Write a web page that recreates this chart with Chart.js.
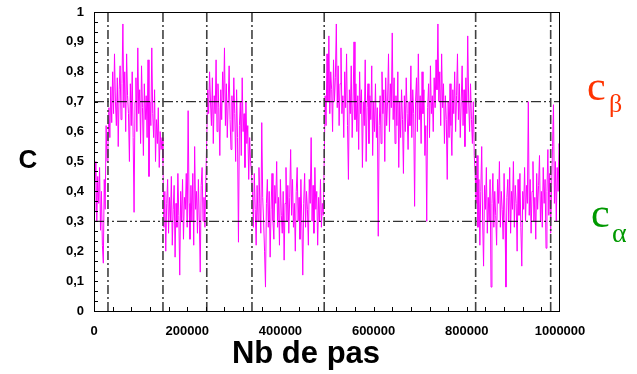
<!DOCTYPE html>
<html>
<head>
<meta charset="utf-8">
<title>C vs Nb de pas</title>
<script src="https://cdn.jsdelivr.net/npm/chart.js@4.4.1/dist/chart.umd.min.js"></script>
<style>
  html, body { margin: 0; padding: 0; background: #fff; }
  canvas { display: block; }
</style>
</head>
<body>
<canvas id="myChart" width="637" height="374"></canvas>
<script>
// sampling step along the x axis (Nb de pas)
const STEP = 2000;

// C values, one array per phase
const phaseA = [0.33, 0.42, 0.50, 0.30, 0.45, 0.36, 0.48, 0.27, 0.40, 0.22,
                0.16, 0.44, 0.34, 0.62, 0.50];
const phaseB = [0.55, 0.68, 0.58, 0.75, 0.63, 0.80, 0.66, 0.86, 0.70, 0.62,
                0.78, 0.55, 0.74, 0.82, 0.64, 0.76, 0.96, 0.68, 0.80, 0.60,
                0.86, 0.72, 0.66, 0.50, 0.76, 0.62, 0.80, 0.58, 0.33, 0.70,
                0.78, 0.60, 0.88, 0.66, 0.74, 0.56, 0.82, 0.68, 0.52, 0.76,
                0.64, 0.72, 0.58, 0.84, 0.45, 0.70, 0.62, 0.88, 0.66, 0.58,
                0.74, 0.50, 0.64, 0.56, 0.68, 0.48, 0.60, 0.54, 0.58];
const phaseC = [0.50, 0.28, 0.40, 0.20, 0.36, 0.44, 0.26, 0.38, 0.30, 0.45,
                0.22, 0.34, 0.42, 0.18, 0.36, 0.28, 0.46, 0.32, 0.12, 0.40,
                0.30, 0.44, 0.24, 0.38, 0.34, 0.46, 0.28, 0.67, 0.36, 0.24,
                0.42, 0.30, 0.46, 0.22, 0.55, 0.34, 0.40, 0.26, 0.44, 0.30,
                0.13, 0.42, 0.48, 0.30, 0.38, 0.28, 0.44];
const phaseD = [0.58, 0.74, 0.66, 0.80, 0.70, 0.62, 0.78, 0.56, 0.72, 0.66,
                0.84, 0.60, 0.76, 0.68, 0.52, 0.74, 0.64, 0.80, 0.70, 0.88,
                0.62, 0.76, 0.58, 0.70, 0.82, 0.64, 0.54, 0.72, 0.60, 0.78,
                0.66, 0.50, 0.74, 0.58, 0.23, 0.62, 0.70, 0.52, 0.78, 0.60,
                0.66, 0.48, 0.70, 0.56, 0.62, 0.44, 0.58, 0.50, 0.46];
const phaseE = [0.40, 0.28, 0.46, 0.34, 0.22, 0.42, 0.30, 0.48, 0.36, 0.26,
                0.63, 0.38, 0.30, 0.20, 0.08, 0.36, 0.44, 0.28, 0.40, 0.18,
                0.34, 0.46, 0.30, 0.24, 0.42, 0.36, 0.50, 0.28, 0.38, 0.22,
                0.44, 0.32, 0.26, 0.40, 0.17, 0.36, 0.48, 0.30, 0.42, 0.26,
                0.38, 0.54, 0.32, 0.44, 0.28, 0.36, 0.20, 0.40, 0.48, 0.30,
                0.38, 0.24, 0.44, 0.30, 0.12, 0.36, 0.46, 0.28, 0.40, 0.34,
                0.22, 0.44, 0.36, 0.58, 0.30, 0.42, 0.26, 0.48, 0.34, 0.40,
                0.22, 0.38, 0.30, 0.44, 0.28, 0.36, 0.32];
const phaseF = [0.50, 0.72, 0.62, 0.86, 0.70, 0.92, 0.66, 0.80, 0.74, 0.60,
                0.84, 0.70, 0.78, 0.96, 0.68, 0.82, 0.62, 0.76, 0.88, 0.66,
                0.72, 0.58, 0.80, 0.68, 0.86, 0.62, 0.44, 0.74, 0.66, 0.82,
                0.58, 0.70, 0.90, 0.64, 0.76, 0.60, 0.72, 0.54, 0.80, 0.66,
                0.74, 0.48, 0.70, 0.62, 0.84, 0.50, 0.68, 0.76, 0.56, 0.72,
                0.64, 0.82, 0.52, 0.70, 0.60, 0.76, 0.58, 0.68, 0.25, 0.62,
                0.72, 0.56, 0.80, 0.66, 0.74, 0.50, 0.78, 0.62, 0.70, 0.86,
                0.60, 0.76, 0.68, 0.93, 0.64, 0.78, 0.56, 0.72, 0.62, 0.80,
                0.48, 0.70, 0.58, 0.74, 0.64, 0.46, 0.72, 0.60, 0.78, 0.66,
                0.54, 0.70, 0.62, 0.82, 0.58, 0.74, 0.66, 0.35, 0.70, 0.78,
                0.60, 0.86, 0.64, 0.72, 0.56, 0.80, 0.66, 0.74, 0.52, 0.62,
                0.30, 0.68, 0.76, 0.58, 0.82, 0.66, 0.72, 0.60, 0.78, 0.68,
                0.84, 0.74, 0.96, 0.70, 0.80, 0.62, 0.86, 0.68, 0.76, 0.56,
                0.72, 0.64, 0.44, 0.70, 0.58, 0.76, 0.62, 0.52, 0.74, 0.66,
                0.80, 0.60, 0.72, 0.86, 0.64, 0.76, 0.58, 0.70, 0.82, 0.62,
                0.74, 0.55, 0.78, 0.66, 0.92, 0.70, 0.60, 0.76, 0.64, 0.56,
                0.70, 0.52, 0.46];
const phaseG = [0.36, 0.52, 0.28, 0.44, 0.22, 0.40, 0.55, 0.30, 0.15, 0.42,
                0.34, 0.48, 0.26, 0.38, 0.30, 0.44, 0.08, 0.36, 0.46, 0.28,
                0.40, 0.32, 0.22, 0.44, 0.36, 0.50, 0.28, 0.40, 0.34, 0.24,
                0.46, 0.30, 0.08, 0.38, 0.44, 0.30, 0.48, 0.26, 0.40, 0.34,
                0.50, 0.28, 0.42, 0.36, 0.20, 0.44, 0.32, 0.46, 0.28, 0.15,
                0.40, 0.34, 0.48, 0.30, 0.42, 0.36, 0.70, 0.32, 0.44, 0.26,
                0.40, 0.50, 0.30, 0.38, 0.24, 0.46, 0.34, 0.42, 0.52, 0.30,
                0.40, 0.28, 0.48, 0.36, 0.44, 0.21, 0.40, 0.54, 0.32, 0.46,
                0.26];
const phaseH = [0.42, 0.55, 0.69, 0.36, 0.50, 0.30, 0.48, 0.40, 0.56, 0.52];

// dash-dot guide lines
const transitions = [30000, 148000, 242000, 339000, 494000, 819000, 980000];
const levels = [0.3, 0.7];

// axis ticks
const xTicks = [0, 200000, 400000, 600000, 800000, 1000000];
const yTicks = [0, 0.1, 0.2, 0.3, 0.4, 0.5, 0.6, 0.7, 0.8, 0.9, 1];

const values = [].concat(phaseA, phaseB, phaseC, phaseD, phaseE, phaseF, phaseG, phaseH);
const series = values.map((v, i) => ({ x: i * STEP, y: v }));

const guideSets = [];
transitions.forEach(t => {
  guideSets.push({
    data: [{ x: t, y: 0 }, { x: t, y: 1 }],
    borderColor: "#404040",
    borderWidth: 1.6,
    borderDash: [9, 3, 2, 3],
    pointRadius: 0,
  });
});
levels.forEach(l => {
  guideSets.push({
    data: [{ x: 0, y: l }, { x: 1000000, y: l }],
    borderColor: "#000",
    borderWidth: 1,
    borderDash: [10, 3, 2, 3, 2, 3],
    pointRadius: 0,
  });
});

const fmtY = v => {
  if (Math.abs(v) < 1e-9) return "0";
  if (Math.abs(v - 1) < 1e-9) return "1";
  return v.toFixed(1).replace(".", ",");
};

// frame, small ticks and the extra labels
const decorations = {
  id: "decorations",
  afterDraw(chart) {
    const { ctx, chartArea: a, scales } = chart;
    ctx.save();
    ctx.strokeStyle = "#000";
    ctx.lineWidth = 1;
    ctx.setLineDash([]);
    ctx.strokeRect(a.left + 0.5, a.top + 0.5, a.right - a.left - 1, a.bottom - a.top);

    ctx.beginPath();
    for (let k = 1; k < 30; k++) {
      const y = Math.round(scales.y.getPixelForValue(k / 30)) + 0.5;
      ctx.moveTo(a.left, y);
      ctx.lineTo(a.left + 4, y);
    }
    for (let k = 1; k < 25; k++) {
      const x = Math.round(scales.x.getPixelForValue(k * 40000)) + 0.5;
      ctx.moveTo(x, a.bottom);
      ctx.lineTo(x, a.bottom - 4);
    }
    ctx.stroke();

    ctx.fillStyle = "#000";
    ctx.textAlign = "center";
    ctx.textBaseline = "alphabetic";
    ctx.font = 'bold 31px "Liberation Sans", Arial, sans-serif';
    ctx.fillText("Nb de pas", 306, 363);
    ctx.font = 'bold 26px "Liberation Sans", Arial, sans-serif';
    ctx.fillText("C", 28, 168);

    ctx.textAlign = "left";
    ctx.fillStyle = "#FF3300";
    ctx.font = '42px "Liberation Serif", "Times New Roman", serif';
    ctx.fillText("c", 587, 100);
    ctx.font = '26px "Liberation Serif", "Times New Roman", serif';
    ctx.fillText("\u03B2", 609, 112);

    ctx.fillStyle = "#009900";
    ctx.font = '42px "Liberation Serif", "Times New Roman", serif';
    ctx.fillText("c", 591, 227);
    ctx.font = '28px "Liberation Serif", "Times New Roman", serif';
    ctx.fillText("\u03B1", 612, 242);
    ctx.restore();
  },
};

const tickFont = { family: '"Liberation Sans", Arial, sans-serif', size: 13, weight: "bold" };

const chart = new Chart(document.getElementById("myChart").getContext("2d"), {
  type: "line",
  data: {
    datasets: guideSets.concat([{
      label: "C",
      data: series,
      borderColor: "#FF00FF",
      borderWidth: 1,
      pointRadius: 0,
      tension: 0,
    }]),
  },
  options: {
    responsive: false,
    animation: false,
    devicePixelRatio: 1,
    layout: { padding: { top: 12, right: 77, left: 0, bottom: 0 } },
    plugins: { legend: { display: false }, tooltip: { enabled: false } },
    scales: {
      x: {
        type: "linear",
        min: 0,
        max: 1000000,
        afterBuildTicks: s => { s.ticks = xTicks.map(v => ({ value: v })); },
        afterFit: s => { s.height = 63; s.paddingLeft = 0; s.paddingRight = 0; },
        grid: { display: false, drawTicks: false },
        border: { display: false },
        ticks: { color: "#000", font: tickFont, padding: 13, maxRotation: 0, autoSkip: false,
                 callback: v => String(v) },
      },
      y: {
        type: "linear",
        min: 0,
        max: 1,
        afterBuildTicks: s => { s.ticks = yTicks.map(v => ({ value: v })); },
        afterFit: s => { s.width = 94; s.paddingTop = 0; s.paddingBottom = 0; },
        grid: { display: false, drawTicks: false },
        border: { display: false },
        ticks: { color: "#000", font: tickFont, padding: 10, callback: v => fmtY(v) },
      },
    },
  },
  plugins: [decorations],
});
</script>
</body>
</html>
